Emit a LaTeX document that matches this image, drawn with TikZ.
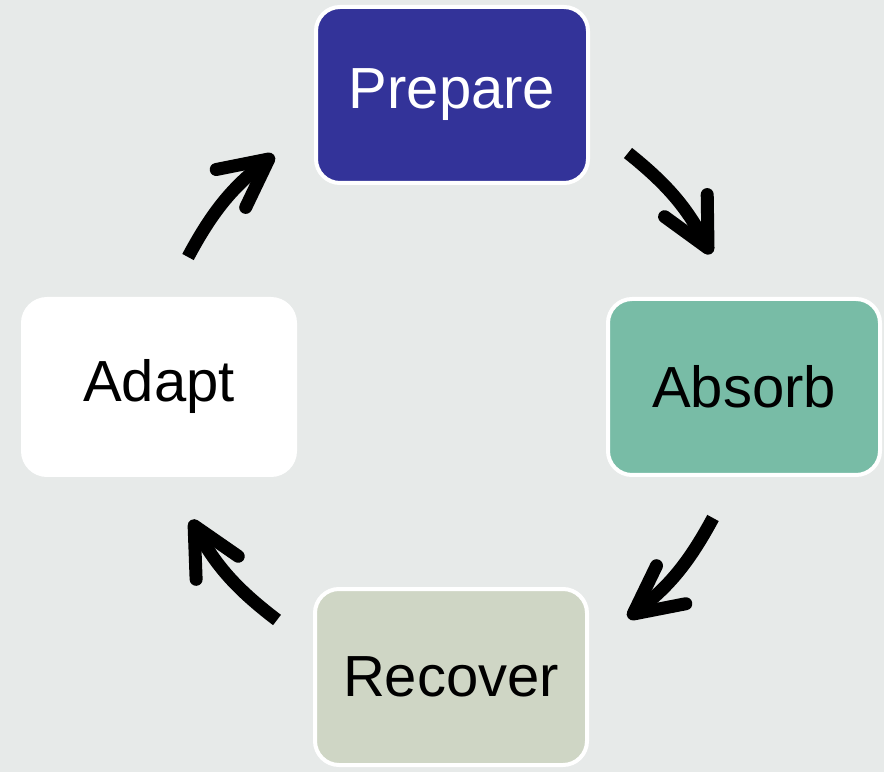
\documentclass[tikz,border=0pt]{standalone}
\usepackage{fontspec}
\setmainfont{Liberation Sans}
\usetikzlibrary{arrows.meta}

\definecolor{bgGray}{RGB}{231,234,233}
\definecolor{prepBlue}{RGB}{51,51,153}
\definecolor{absGreen}{RGB}{120,188,166}
\definecolor{recSage}{RGB}{207,214,197}

\begin{document}
\begin{tikzpicture}[line cap=round,line join=round,x=0.5pt,y=0.5pt,
  phase/.style={rectangle,rounded corners=12pt,draw=white,line width=2pt,
    minimum width=136pt,minimum height=88pt,
    font=\fontsize{29}{34}\selectfont},
  cyc/.style={line width=6.5pt,line cap=butt,
    -{Straight Barb[round,length=24pt,width=24pt]}}]

\fill[bgGray] (0.,0.) rectangle (884.,772.);
\useasboundingbox (0.,0.) rectangle (884.,772.);

\node[phase,fill=prepBlue,text=white] (prep) at (452.,677.) {Prepare};
\node[phase,fill=absGreen] (absb) at (744.,385.) {Absorb};
\node[phase,fill=recSage] (recv) at (451.,95.) {Recover};
\node[phase,fill=white] (adpt) at (159.,385.) {Adapt};

\coordinate (p1) at (628.,619.);
\coordinate (a1) at (711.,518.);
\coordinate (a2) at (713.,254.);
\coordinate (r2) at (628.,154.);
\coordinate (r3) at (277.,152.);
\coordinate (d3) at (191.,252.);
\coordinate (d4) at (188.,515.);
\coordinate (p4) at (274.,617.);

\draw[cyc] (p1) to[bend left=12] (a1);
\draw[cyc] (a2) to[bend left=12] (r2);
\draw[cyc] (r3) to[bend left=12] (d3);
\draw[cyc] (d4) to[bend left=12] (p4);
\end{tikzpicture}
\end{document}
